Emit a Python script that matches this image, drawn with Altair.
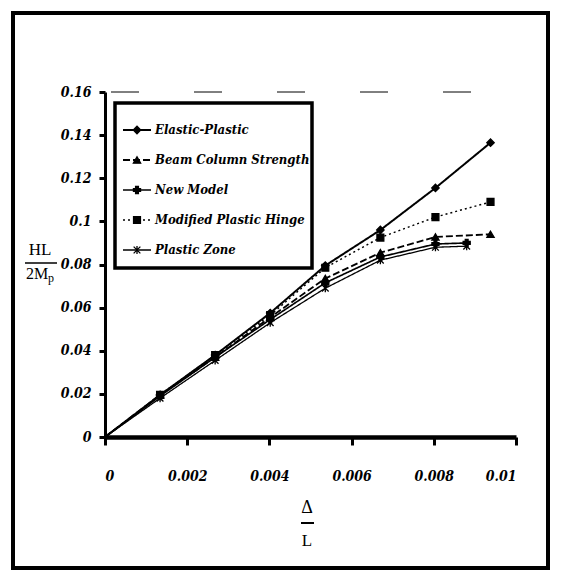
import altair as alt
import pandas as pd

# ---- data ----
series_names = ["Elastic-Plastic", "Beam Column Strength", "New Model",
                "Modified Plastic Hinge", "Plastic Zone"]
x_full = [0, 0.00134, 0.00268, 0.00402, 0.00536, 0.0067, 0.00804, 0.00938]
x_short = [0, 0.00134, 0.00268, 0.00402, 0.00536, 0.0067, 0.00804, 0.0088]
elastic_plastic = [0, 0.0195, 0.038, 0.0575, 0.0795, 0.096, 0.1155, 0.1365]
beam_column = [0, 0.0195, 0.037, 0.0555, 0.0735, 0.0855, 0.0928, 0.0940]
new_model = [0, 0.019, 0.037, 0.0545, 0.0715, 0.0835, 0.0895, 0.0900]
modified_hinge = [0, 0.0195, 0.038, 0.0565, 0.0785, 0.0925, 0.1020, 0.1090]
plastic_zone = [0, 0.018, 0.0355, 0.053, 0.0690, 0.0820, 0.0880, 0.0885]

x_ticks = [0, 0.002, 0.004, 0.006, 0.008, 0.01]
y_ticks = [0, 0.02, 0.04, 0.06, 0.08, 0.1, 0.12, 0.14, 0.16]

xs = [x_full, x_full, x_short, x_full, x_short]
ys = [elastic_plastic, beam_column, new_model, modified_hinge, plastic_zone]
rows = []
for name, xv, yv in zip(series_names, xs, ys):
    for i, (a, b) in enumerate(zip(xv, yv)):
        rows.append({"series": name, "d": a, "h": b, "i": i})
df = pd.DataFrame(rows)
leg = pd.DataFrame({"series": series_names, "idx": list(range(len(series_names)))})
one = pd.DataFrame({"k": [0]})

W, H = 411, 345
SERIF = "Liberation Serif"
BI = "DejaVu Serif Condensed"

dash_scale = alt.Scale(domain=series_names,
                       range=[[1, 0], [7, 3], [1, 0], [2, 3], [1, 0]])
width_scale = alt.Scale(domain=series_names, range=[2, 1.3, 1.2, 1.3, 1.6])
shape_scale = alt.Scale(domain=series_names,
                        range=["diamond", "triangle-up", "cross", "square",
                               "M-1,-1L1,1M1,-1L-1,1M0,-1.2L0,1.2"])
size_scale = alt.Scale(domain=series_names, range=[55, 45, 25, 45, 35])

xenc = alt.X("d:Q", scale=alt.Scale(domain=[0, 0.01]),
             axis=alt.Axis(values=x_ticks, format="~g", title=None,
                           labelPadding=24, domainWidth=4.5, tickWidth=3,
                           tickSize=8))
yenc = alt.Y("h:Q", scale=alt.Scale(domain=[0, 0.16]),
             axis=alt.Axis(values=y_ticks, format="~g", title=None,
                           labelPadding=8, domainWidth=3, tickWidth=3,
                           tickSize=6))

lines = alt.Chart(df).mark_line(color="black").encode(
    x=xenc, y=yenc, detail="series:N", order="i:Q",
    strokeDash=alt.StrokeDash("series:N", scale=dash_scale, legend=None),
    strokeWidth=alt.StrokeWidth("series:N", scale=width_scale, legend=None),
)
pts = alt.Chart(df).transform_filter("datum.i > 0").mark_point(
    filled=True, color="black", stroke="black", strokeWidth=1.3, opacity=1
).encode(
    x="d:Q", y="h:Q",
    shape=alt.Shape("series:N", scale=shape_scale, legend=None),
    size=alt.Size("series:N", scale=size_scale, legend=None),
)

top_dash = alt.Chart(one).mark_rule(color="black", strokeWidth=1,
                                    strokeDash=[28, 55]).encode(
    y=alt.datum(0.16), x=alt.value(6), x2=alt.value(385))

# legend (manual, boxed)
box = alt.Chart(one).mark_rect(fill="white", stroke="black", strokeWidth=3.5).encode(
    x=alt.value(10), x2=alt.value(207), y=alt.value(11), y2=alt.value(176))
lbase = alt.Chart(leg).transform_calculate(ly="38 + 30 * datum.idx")
lrule = lbase.mark_rule(color="black").encode(
    x=alt.value(18), x2=alt.value(46), y=alt.Y("ly:Q", scale=None),
    strokeDash=alt.StrokeDash("series:N", scale=dash_scale, legend=None),
    strokeWidth=alt.StrokeWidth("series:N", scale=width_scale, legend=None))
lpt = lbase.mark_point(filled=True, color="black", stroke="black",
                       strokeWidth=1.3, opacity=1).encode(
    x=alt.value(32), y=alt.Y("ly:Q", scale=None),
    shape=alt.Shape("series:N", scale=shape_scale, legend=None),
    size=alt.Size("series:N", scale=size_scale, legend=None))
ltxt = lbase.mark_text(align="left", baseline="middle", font=BI,
                       fontSize=13, fontWeight="bold", fontStyle="italic",
                       color="black").encode(
    x=alt.value(50), y=alt.Y("ly:Q", scale=None), text="series:N")

# axis titles as fractions
def txt(s, x, y, size, align="center"):
    return alt.Chart(one).mark_text(text=s, font=SERIF, fontSize=size,
                                    align=align, baseline="middle",
                                    color="black").encode(
        x=alt.value(x), y=alt.value(y))

def bar(x1, x2, y, w=1.5):
    return alt.Chart(one).mark_rule(color="black", strokeWidth=w).encode(
        x=alt.value(x1), x2=alt.value(x2), y=alt.value(y))

titles = [
    txt("HL", -65, 158, 17), bar(-80, -48, 171),
    txt("2M", -79, 182, 16, "left"), txt("p", -57, 186, 12, "left"),
    txt("Δ", 202, 416, 18), bar(196, 209, 431, 2), txt("L", 202, 449, 17),
]

frame = alt.Chart(one).mark_rect(fillOpacity=0, stroke="black",
                                 strokeWidth=4).encode(
    x=alt.value(-92), x2=alt.value(443), y=alt.value(-79), y2=alt.value(476))

chart = alt.layer(lines, pts, top_dash, box, lrule, lpt, ltxt, *titles, frame).properties(
    width=W, height=H,
    padding={"left": 97, "top": 84, "right": 38, "bottom": 135},
    autosize=alt.AutoSizeParams(type="none"),
    background="white",
).configure_view(stroke=None).configure_axis(
    grid=False, domainColor="black", tickColor="black",
    labelFont=BI, labelFontSize=14, labelFontWeight="bold",
    labelFontStyle="italic", labelColor="black",
)

chart.save("out.html", embed_options={"renderer": "svg", "actions": False})
